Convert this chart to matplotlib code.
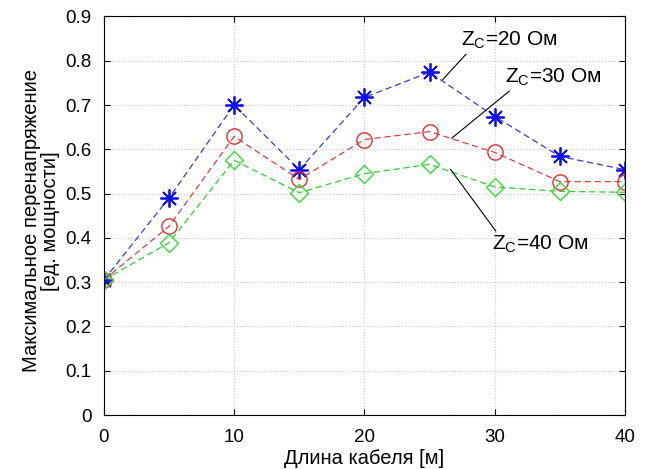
import numpy as np
import matplotlib
matplotlib.use("Agg")
import matplotlib.pyplot as plt

plt.rcParams['font.family'] = ['Liberation Sans', 'DejaVu Sans']
plt.rcParams['mathtext.fontset'] = 'custom'
plt.rcParams['mathtext.rm'] = 'Liberation Sans'
plt.rcParams['mathtext.it'] = 'Liberation Sans'

# cable length [m]
length = [0, 5, 10, 15, 20, 25, 30, 35, 40]
# max overvoltage for each wave impedance
zc20 = [0.305, 0.49, 0.70, 0.554, 0.717, 0.774, 0.674, 0.584, 0.554]
zc30 = [0.305, 0.426, 0.629, 0.532, 0.622, 0.640, 0.593, 0.527, 0.527]
zc40 = [0.305, 0.389, 0.575, 0.502, 0.545, 0.566, 0.515, 0.505, 0.503]

xticks = [0, 10, 20, 30, 40]
yticks = [0, 0.1, 0.2, 0.3, 0.4, 0.5, 0.6, 0.7, 0.8, 0.9]
ytick_labels = ['0', '0.1', '0.2', '0.3', '0.4', '0.5', '0.6', '0.7', '0.8', '0.9']

fig = plt.figure(figsize=(6.45, 4.69), dpi=100)
ax = fig.add_axes([0.161, 0.115, 0.808, 0.85])

ax.plot(length, zc20, color='#3a3ad0', lw=0.9, marker=(8, 2, 0), ms=13,
        mec='#1010e8', mew=1.3, dashes=(5, 3))
ax.plot(length, zc30, color='#d84040', lw=0.9, marker='o', ms=11,
        mec='#e03030', mfc='none', mew=1.0, dashes=(5, 3))
ax.plot(length, zc40, color='#33cc33', lw=0.9, marker='D', ms=9,
        mec='#33dd33', mfc='none', mew=1.0, dashes=(5, 3))

ax.set_xlim(0, 40)
ax.set_ylim(0, 0.9)
ax.set_xticks(xticks)
ax.set_yticks(yticks)
ax.set_yticklabels(ytick_labels)
ax.tick_params(direction='in', top=True, right=True, labelsize=13.5, length=4)
ax.tick_params(axis='y', pad=9)
ax.tick_params(axis='x', pad=10)
ax.grid(True, linestyle=':', color='#c8c8c8', lw=0.8)
ax.set_axisbelow(True)

ax.set_xlabel("Длина кабеля [м]", fontsize=14.5)
ax.xaxis.set_label_coords(0.5, -0.086)
ax.set_ylabel("Максимальное перенапряжение\n[ед. мощности]", fontsize=14.5,
              linespacing=1.0)
ax.yaxis.set_label_coords(-0.085, 0.487)

# annotations
ax.annotate("Z$_{\\mathrm{C}}$=20 Ом", xy=(26.0, 0.757), xytext=(27.4, 0.845),
            fontsize=15, va='center', ha='left',
            arrowprops=dict(arrowstyle='-', color='black', lw=0.8,
                            shrinkA=0, shrinkB=0, relpos=(0.08, 0.0)))
ax.annotate("Z$_{\\mathrm{C}}$=30 Ом", xy=(26.7, 0.625), xytext=(30.8, 0.762),
            fontsize=15, va='center', ha='left',
            arrowprops=dict(arrowstyle='-', color='black', lw=0.8,
                            shrinkA=0, shrinkB=0, relpos=(0.08, 0.0)))
ax.annotate("Z$_{\\mathrm{C}}$=40 Ом", xy=(26.6, 0.555), xytext=(29.8, 0.385),
            fontsize=15, va='center', ha='left',
            arrowprops=dict(arrowstyle='-', color='black', lw=0.8,
                            shrinkA=0, shrinkB=0, relpos=(0.06, 1.0)))

fig.savefig("out.png", dpi=100)
